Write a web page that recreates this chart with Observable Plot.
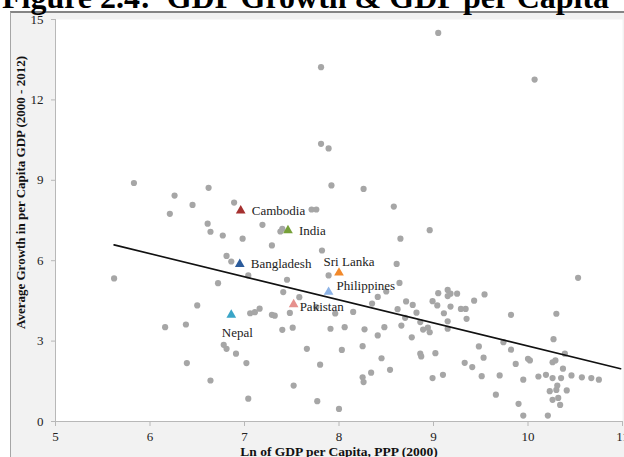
<!DOCTYPE html>
<html>
<head>
<meta charset="utf-8">
<script src="https://cdn.jsdelivr.net/npm/d3@7"></script>
<script src="https://cdn.jsdelivr.net/npm/@observablehq/plot@0.6"></script>
<style>
  html, body { margin: 0; padding: 0; background: #ffffff; }
  #wrap { position: relative; width: 624px; height: 457px; overflow: hidden; background: #ffffff; }
  #area { position: absolute; left: 10px; top: 11px; width: 640px; height: 460px; background: #f2f2f2;
          border-top: 2px solid #858585; border-left: 1px solid #a6a6a6; box-sizing: border-box; }
  #title { position: absolute; left: 2px; top: -19px; font-family: "Liberation Serif", "Times New Roman", serif;
           font-weight: bold; font-size: 32px; line-height: 32px; white-space: pre; color: #000; }
  #chart { position: absolute; left: 0; top: 0; }
</style>
</head>
<body>
<div id="wrap">
  <div id="area"></div>
  <div id="title">Figure 2.4:  GDP Growth &amp; GDP per Capita</div>
  <div id="chart"></div>
</div>
<script>
// Gray points: Ln of GDP per capita (x) and average growth (y)
const gdpLn = [
  5.62, 5.83, 6.26, 6.62, 6.45, 6.21, 6.89, 6.61, 6.64, 6.77, 6.81, 6.86, 6.72, 6.50,
  7.92, 8.26, 7.71, 7.76, 8.58, 7.19, 6.98, 7.38, 7.40, 7.29, 7.82, 8.65, 8.96,
  7.04, 7.45, 7.89, 8.61, 8.64, 8.50, 7.41, 7.58, 7.76, 7.06, 7.11, 7.16, 7.29, 7.32,
  7.48, 7.96, 8.15, 8.35, 8.41, 8.62, 8.71, 8.78, 8.70, 7.40, 7.51, 7.91, 8.06, 8.27,
  8.41, 8.48, 8.77, 6.16, 6.38, 6.78, 6.81, 6.91, 7.02, 6.39, 6.64, 7.04, 7.66, 8.03,
  8.25, 8.45, 7.80, 8.34, 8.54, 8.25, 8.26, 7.52, 7.77, 8.00, 8.66, 8.82, 8.86, 8.89,
  8.94, 8.96, 8.86, 8.87, 8.99, 9.04, 9.05, 9.15, 9.18, 9.15, 9.25, 9.11, 9.15, 9.15,
  9.18, 9.29, 9.34, 9.35, 9.43, 9.54, 9.02, 8.99, 9.10, 9.33, 9.41, 9.48, 9.53, 9.51,
  9.70, 9.66, 9.74, 9.82, 9.82, 9.87, 9.90, 9.95, 9.95, 10.00, 10.02, 10.11, 10.19,
  10.21, 10.26, 10.29, 10.27, 10.30, 10.26, 10.35, 10.31, 10.30, 10.23, 10.32, 10.26,
  10.34, 10.41, 10.37, 10.39, 10.46, 10.53, 10.57, 10.67, 10.75, 9.05, 10.07, 7.81,
  7.81, 7.89
];
const growth = [
  5.34, 8.90, 8.43, 8.72, 8.08, 7.75, 8.17, 7.38, 7.08, 6.94, 6.18, 5.97, 5.16, 4.33,
  8.81, 8.68, 7.91, 7.91, 8.02, 7.34, 6.82, 7.09, 7.19, 6.57, 6.38, 6.82, 7.14,
  5.45, 5.29, 5.45, 5.88, 5.17, 4.85, 4.83, 4.64, 4.27, 4.04, 4.08, 4.21, 3.98, 3.95,
  4.05, 4.03, 4.09, 4.40, 4.65, 4.19, 4.48, 4.35, 3.87, 3.42, 3.50, 3.46, 3.52, 3.44,
  3.21, 3.52, 3.14, 3.52, 3.62, 2.86, 2.71, 2.53, 2.18, 2.18, 1.53, 0.85, 2.71, 2.67,
  2.81, 2.36, 2.12, 1.82, 1.93, 1.65, 1.47, 1.34, 0.76, 0.47, 3.58, 4.06, 3.71, 3.43,
  3.50, 3.33, 2.53, 2.43, 4.49, 4.33, 4.79, 4.91, 4.77, 4.68, 4.77, 4.04, 3.74, 3.46,
  4.29, 4.20, 4.20, 3.83, 4.51, 4.74, 2.55, 1.62, 1.74, 2.19, 2.03, 2.80, 2.38, 1.69,
  1.72, 1.00, 2.96, 3.98, 2.68, 2.15, 0.66, 1.56, 0.22, 2.34, 2.28, 1.68, 1.74,
  0.22, 2.21, 2.28, 3.07, 4.02, 1.62, 1.62, 1.34, 1.18, 1.13, 0.88, 0.81,
  0.62, 1.16, 1.97, 2.53, 1.72, 5.36, 1.65, 1.62, 1.56, 14.50, 12.76, 13.22,
  10.36, 10.19
];

// Highlighted South/South-East Asian countries
const countries = ["Cambodia", "India", "Bangladesh", "Sri Lanka", "Philippines", "Pakistan", "Nepal"];
const countryLn = [6.96, 7.46, 6.95, 8.00, 7.89, 7.52, 6.86];
const countryGrowth = [7.87, 7.13, 5.87, 5.55, 4.83, 4.37, 3.98];

// Linear trend line end points
const trendLn = [5.62, 10.98];
const trendGrowth = [6.59, 1.97];

// Axis ticks
const xTicks = [5, 6, 7, 8, 9, 10, 11];
const yTicks = [0, 3, 6, 9, 12, 15];

const xTitle = "Ln of GDP per Capita, PPP (2000)";
const yTitle = "Average Growth in per Capita GDP (2000 - 2012)";

const points = gdpLn.map((x, i) => ({x, y: growth[i]}));
const highlights = countries.map((name, i) => ({name, x: countryLn[i], y: countryGrowth[i]}));
const trend = trendLn.map((x, i) => ({x, y: trendGrowth[i]}));

const countryColors = ["#a5302f", "#76a038", "#2b5b9b", "#f2892a", "#8db3e6", "#e6908d", "#3aa5c7"];
const serif = "'Liberation Serif', 'Times New Roman', serif";
const byName = (names) => highlights.filter(d => names.includes(d.name));

const chart = Plot.plot({
  width: 624,
  height: 457,
  marginLeft: 55,
  marginRight: 2,
  marginTop: 19,
  marginBottom: 36,
  style: {background: "transparent", fontFamily: serif, fontSize: "13px", color: "#222"},
  x: {domain: [5, 11]},
  y: {domain: [0, 15]},
  color: {domain: countries, range: countryColors},
  marks: [
    Plot.frame({fill: "white", stroke: null}),
    Plot.ruleY([0], {stroke: "#b8b8b8", strokeWidth: 1}),
    Plot.ruleX([5], {stroke: "#b8b8b8", strokeWidth: 1}),
    Plot.axisX({ticks: xTicks, tickSize: 5, tickPadding: 5, stroke: "#b8b8b8", fill: "#222", label: null, tickFormat: d => String(d), fontSize: 13}),
    Plot.axisY({ticks: yTicks, tickSize: 4, tickPadding: 8, stroke: "#b8b8b8", fill: "#222", label: null, tickFormat: d => String(d), fontSize: 13}),
    Plot.dot(points, {x: "x", y: "y", r: 3.1, fill: "#a6a6a6", stroke: null}),
    Plot.line(trend, {x: "x", y: "y", stroke: "#111", strokeWidth: 1.6}),
    Plot.dot(highlights, {x: "x", y: "y", symbol: "triangle", r: 3.6, fill: "name", stroke: null}),
    Plot.text(byName(["Cambodia", "India", "Bangladesh"]), {x: "x", y: "y", text: "name", textAnchor: "start", dx: 11, dy: 0, fontSize: 13, fill: "#222", fontFamily: serif}),
    Plot.text(byName(["Sri Lanka"]), {x: "x", y: "y", text: "name", textAnchor: "middle", dx: 10, dy: -11, fontSize: 13, fill: "#222", fontFamily: serif}),
    Plot.text(byName(["Philippines"]), {x: "x", y: "y", text: "name", textAnchor: "start", dx: 8, dy: -6, fontSize: 13, fill: "#222", fontFamily: serif}),
    Plot.text(byName(["Pakistan"]), {x: "x", y: "y", text: "name", textAnchor: "start", dx: 6, dy: 2, fontSize: 13, fill: "#222", fontFamily: serif}),
    Plot.text(byName(["Nepal"]), {x: "x", y: "y", text: "name", textAnchor: "middle", dx: 6, dy: 18, fontSize: 13, fill: "#222", fontFamily: serif}),
    Plot.text([xTitle], {frameAnchor: "bottom", textAnchor: "middle", dy: 34, text: d => d, fontWeight: "bold", fontSize: 13.5, fill: "#111", fontFamily: serif}),
    Plot.text([yTitle], {frameAnchor: "left", textAnchor: "middle", dx: -35, dy: -28, rotate: -90, text: d => d, fontWeight: "bold", fontSize: 13, fill: "#111", fontFamily: serif})
  ]
});
document.getElementById("chart").appendChild(chart);
</script>
</body>
</html>
